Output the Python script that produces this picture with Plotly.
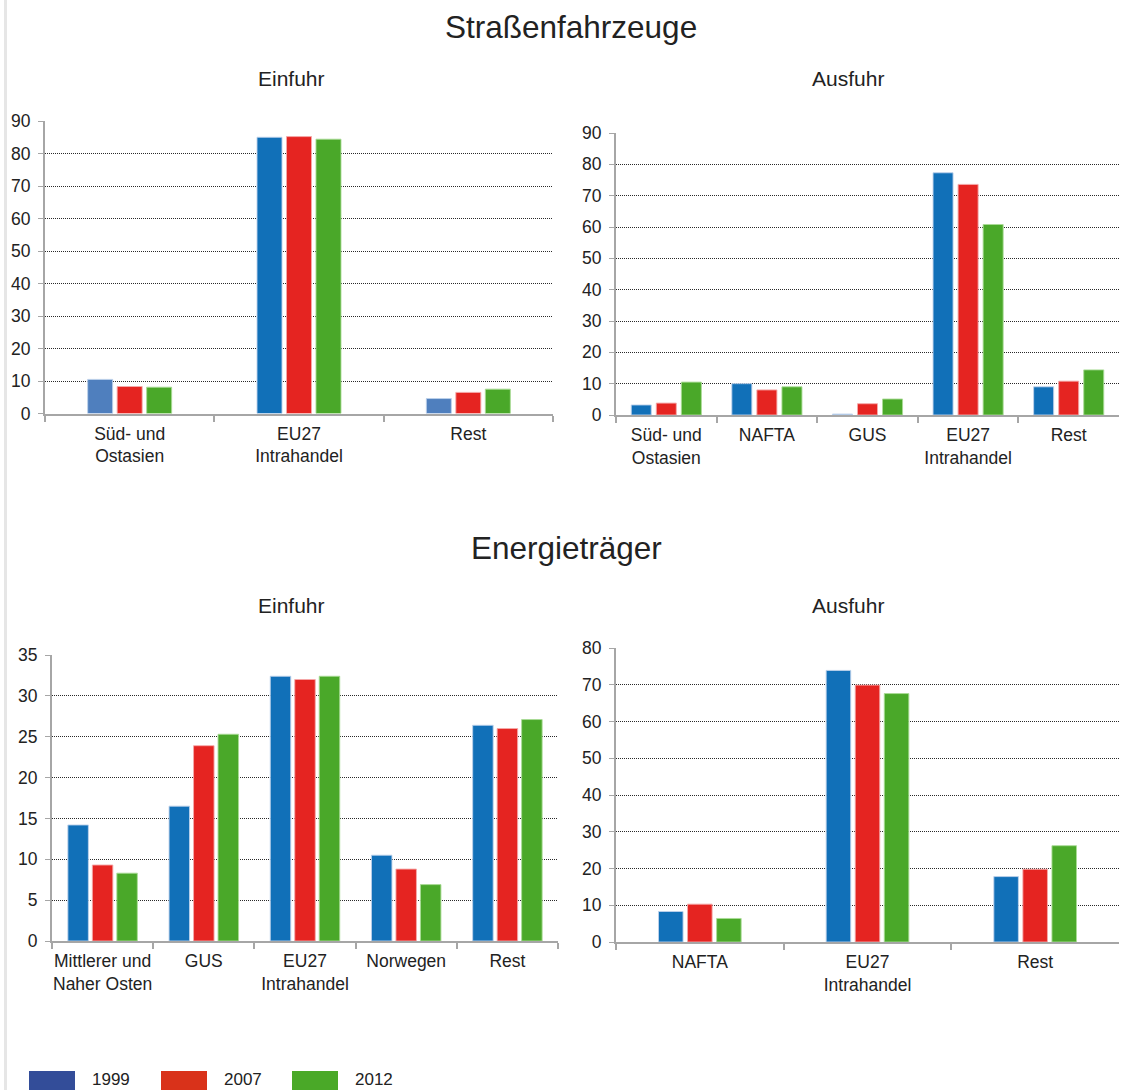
import plotly.graph_objects as go

# ---- data -------------------------------------------------------------
years = ["1999", "2007", "2012"]

# Straßenfahrzeuge – Einfuhr
sf_ein_cats = ["Süd- und<br>Ostasien", "EU27<br>Intrahandel", "Rest"]
sf_ein_1999 = [10.5, 85.0, 4.6]
sf_ein_2007 = [8.3, 85.2, 6.5]
sf_ein_2012 = [8.1, 84.4, 7.5]

# Straßenfahrzeuge – Ausfuhr
sf_aus_cats = ["Süd- und<br>Ostasien", "NAFTA", "GUS", "EU27<br>Intrahandel", "Rest"]
sf_aus_1999 = [3.2, 10.0, 0.3, 77.3, 9.0]
sf_aus_2007 = [3.8, 8.0, 3.6, 73.6, 10.8]
sf_aus_2012 = [10.5, 9.0, 5.1, 60.8, 14.4]

# Energieträger – Einfuhr
et_ein_cats = ["Mittlerer und<br>Naher Osten", "GUS", "EU27<br>Intrahandel", "Norwegen", "Rest"]
et_ein_1999 = [14.2, 16.5, 32.4, 10.5, 26.4]
et_ein_2007 = [9.3, 23.9, 32.0, 8.8, 26.0]
et_ein_2012 = [8.3, 25.3, 32.4, 6.9, 27.1]

# Energieträger – Ausfuhr
et_aus_cats = ["NAFTA", "EU27<br>Intrahandel", "Rest"]
et_aus_1999 = [8.3, 73.9, 17.8]
et_aus_2007 = [10.3, 69.9, 19.8]
et_aus_2012 = [6.4, 67.6, 26.2]

# ---- styling ----------------------------------------------------------
W, H = 1122, 1090
FONT = "Liberation Sans, Arial, sans-serif"
TXT = "#222222"
AXIS = "#a6a6a6"
TICK_SIZE = 17.5
BLUE, RED, GREEN = "#1170B8", "#E52421", "#4AA829"
BLUE_SOFT, BLUE_PALE = "#4F7FBE", "#8DB4D9"
LEG_COLORS = ["#334D99", "#D9321A", "#4AA928"]


def px_x(x):
    return x / W


def px_y(y):
    return 1 - y / H


# each panel: data, pixel box (left, right, y of zero, y of top), y max, dtick,
# bar width / slot as fraction of a category, colours of the 1999 bars
panels = [
    dict(cats=sf_ein_cats, vals=[sf_ein_1999, sf_ein_2007, sf_ein_2012],
         box=(45, 553, 413.5, 121), ymax=90, dtick=10, w=0.1477, slot=0.1742,
         c1999=[BLUE_SOFT, BLUE, BLUE_SOFT]),
    dict(cats=sf_aus_cats, vals=[sf_aus_1999, sf_aus_2007, sf_aus_2012],
         box=(616, 1119, 415, 133), ymax=90, dtick=10, w=0.199, slot=0.249,
         c1999=[BLUE, BLUE, BLUE_PALE, BLUE, BLUE]),
    dict(cats=et_ein_cats, vals=[et_ein_1999, et_ein_2007, et_ein_2012],
         box=(52, 558, 941, 655), ymax=35, dtick=5, w=0.2026, slot=0.242,
         c1999=[BLUE] * 5),
    dict(cats=et_aus_cats, vals=[et_aus_1999, et_aus_2007, et_aus_2012],
         box=(616, 1119, 942, 648), ymax=80, dtick=10, w=0.1464, slot=0.1733,
         c1999=[BLUE] * 3),
]

fig = go.Figure()
layout = dict(
    width=W, height=H, autosize=False,
    margin=dict(l=0, r=0, t=0, b=0, pad=0, autoexpand=False),
    paper_bgcolor="white", plot_bgcolor="white",
    showlegend=False, barmode="group",
    font=dict(family=FONT, size=TICK_SIZE, color=TXT),
)

edge = ["rgba(190,210,235,0.9)", "rgba(245,170,170,0.9)", "rgba(170,220,150,0.9)"]

for k, p in enumerate(panels, start=1):
    sfx = "" if k == 1 else str(k)
    left, right, y0, ytop = p["box"]
    for i, (yr, vals) in enumerate(zip(years, p["vals"])):
        colors = p["c1999"] if i == 0 else [RED, GREEN][i - 1]
        fig.add_trace(go.Bar(
            x=p["cats"], y=vals, name=yr,
            xaxis="x" + sfx, yaxis="y" + sfx,
            width=p["w"], offset=(i - 1) * p["slot"] - p["w"] / 2,
            marker=dict(color=colors, line=dict(width=1, color=edge[i])),
            hoverinfo="x+y+name",
        ))
    layout["xaxis" + sfx] = dict(
        domain=[px_x(left), px_x(right)], anchor="y" + sfx,
        type="category", showgrid=False, automargin=False,
        showline=True, linecolor=AXIS, linewidth=2,
        ticks="outside", tickson="boundaries", ticklen=6, tickwidth=2,
        tickcolor=AXIS, tickangle=0, ticklabelstandoff=3,
        tickfont=dict(size=TICK_SIZE, color=TXT), fixedrange=True,
    )
    layout["yaxis" + sfx] = dict(
        domain=[px_y(y0), px_y(ytop)], anchor="x" + sfx,
        range=[0, p["ymax"]], dtick=p["dtick"], automargin=False,
        showline=True, linecolor=AXIS, linewidth=2,
        ticks="outside", ticklen=5, tickwidth=1, tickcolor=AXIS,
        ticklabelstandoff=4,
        showgrid=True, gridcolor="#2a2a2a", gridwidth=1, griddash="1px,1px",
        zeroline=False, tickfont=dict(size=TICK_SIZE, color=TXT), fixedrange=True,
    )

fig.update_layout(**layout)

# titles
annotations = [
    dict(text="Straßenfahrzeuge", x=px_x(571), y=px_y(27), size=31.5),
    dict(text="Einfuhr", x=px_x(291), y=px_y(78), size=21),
    dict(text="Ausfuhr", x=px_x(848), y=px_y(78), size=21),
    dict(text="Energieträger", x=px_x(566), y=px_y(548), size=31.5),
    dict(text="Einfuhr", x=px_x(291), y=px_y(605), size=21),
    dict(text="Ausfuhr", x=px_x(848), y=px_y(605), size=21),
]
for a in annotations:
    fig.add_annotation(
        text=a["text"], x=a["x"], y=a["y"], xref="paper", yref="paper",
        xanchor="center", yanchor="middle", showarrow=False,
        font=dict(family=FONT, size=a["size"], color=TXT),
    )

# legend drawn as swatches and labels along the bottom
sw_left = [29, 161, 292]
for yr, col, x0 in zip(years, LEG_COLORS, sw_left):
    fig.add_shape(type="rect", xref="paper", yref="paper",
                  x0=px_x(x0), x1=px_x(x0 + 46), y0=px_y(1095), y1=px_y(1071),
                  fillcolor=col, line=dict(width=0))
    fig.add_annotation(text=yr, x=px_x(x0 + 61), y=px_y(1079),
                       xref="paper", yref="paper", xanchor="left", yanchor="middle",
                       showarrow=False, font=dict(family=FONT, size=17, color=TXT))

# thin frame line on the left edge
fig.add_shape(type="line", xref="paper", yref="paper",
              x0=px_x(5.5), x1=px_x(5.5), y0=0, y1=1,
              line=dict(color="#e6e6e6", width=3))

fig.write_html("out.html", config={"displayModeBar": False})
